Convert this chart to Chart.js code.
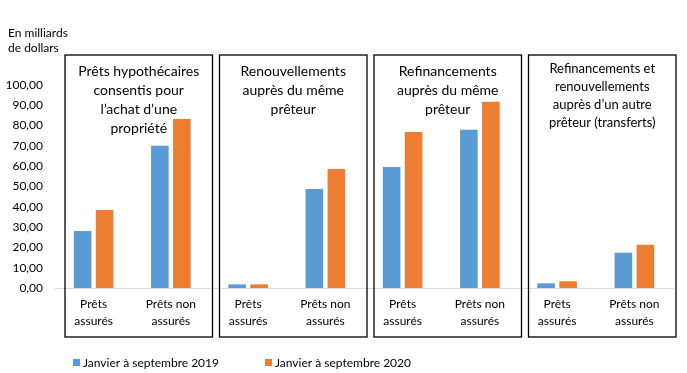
<!DOCTYPE html>
<html>
<head>
<meta charset="utf-8">
<script src="https://cdn.jsdelivr.net/npm/chart.js@4"></script>
<style>
  html, body { margin: 0; padding: 0; background: #fff; }
  #wrap { width: 687px; height: 373px; }
</style>
</head>
<body>
<div id="wrap"><canvas id="chart"></canvas></div>
<script>
// catégories (2 par panneau)
const categories = [
    ['Prêts', 'assurés'], ['Prêts non', 'assurés'],
    ['Prêts', 'assurés'], ['Prêts non', 'assurés'],
    ['Prêts', 'assurés'], ['Prêts non', 'assurés'],
    ['Prêts', 'assurés'], ['Prêts non', 'assurés']
];
const panelTitles = [
    ['Prêts hypothécaires', 'consentis pour', 'l\u2019achat d\u2019une', 'propriété'],
    ['Renouvellements', 'auprès du même', 'prêteur'],
    ['Refinancements', 'auprès du même', 'prêteur'],
    ['Refinancements et', 'renouvellements', 'auprès d\u2019un autre', 'prêteur (transferts)']
];
const seriesLabels = ['Janvier à septembre 2019', 'Janvier à septembre 2020'];
const values2019 = [28.1, 70.1, 1.8, 48.8, 59.6, 78.0, 2.3, 17.4];
const values2020 = [38.4, 83.3, 1.8, 58.6, 76.8, 91.8, 3.3, 21.3];
const yTitle = ['En milliards', 'de dollars'];

const blue = '#5B9BD5';
const orange = '#ED7D31';
const FONT = 'Lato, "Open Sans", sans-serif';

// cadres + titres des panneaux, titre de l'axe et légende
const decorPlugin = {
    id: 'decor',
    afterDraw(chart) {
        const ctx = chart.ctx;
        const x = chart.scales.x;
        ctx.save();
        panelTitles.forEach((lines, k) => {
            const c0 = x.getPixelForValue(2 * k);
            const c1 = x.getPixelForValue(2 * k + 1);
            const half = (c1 - c0) / 2;
            const left = c0 - half + 10;
            const right = c1 + half + 3;
            ctx.strokeStyle = '#000';
            ctx.lineWidth = 1.3;
            ctx.strokeRect(left, 55, right - left, 282);

            const small = lines.length === 4 && k === 3;
            ctx.fillStyle = '#000';
            ctx.font = (small ? '13px ' : '14px ') + FONT;
            ctx.textAlign = 'center';
            ctx.textBaseline = 'middle';
            const step = small ? 17.8 : 19.2;
            const y0 = small ? 69 : 71;
            lines.forEach((t, i) => {
                ctx.fillText(t, (left + right) / 2, y0 + i * step);
            });
        });

        ctx.font = '12px ' + FONT;
        ctx.textAlign = 'left';
        ctx.textBaseline = 'middle';
        ctx.fillStyle = '#000';
        ctx.fillText(yTitle[0], 8, 33);
        ctx.fillText(yTitle[1], 8, 48);

        // légende
        const items = [[seriesLabels[0], blue, 73], [seriesLabels[1], orange, 265]];
        items.forEach(([label, color, lx]) => {
            ctx.fillStyle = color;
            ctx.fillRect(lx, 359, 7, 7);
            ctx.fillStyle = '#000';
            ctx.fillText(label, lx + 10, 363);
        });
        ctx.restore();
    }
};

new Chart(document.getElementById('chart'), {
    type: 'bar',
    data: {
        labels: categories,
        datasets: [
            { label: seriesLabels[0], data: values2019, backgroundColor: blue },
            { label: seriesLabels[1], data: values2020, backgroundColor: orange }
        ]
    },
    options: {
        responsive: true,
        maintainAspectRatio: false,
        animation: false,
        datasets: {
            bar: { categoryPercentage: 0.57, barPercentage: 0.8 }
        },
        layout: { padding: { top: 85, right: 14, left: 0, bottom: 0 } },
        plugins: {
            legend: { display: false },
            tooltip: { enabled: false }
        },
        scales: {
            x: {
                afterFit: s => { s.height = 85; },
                grid: { display: false, drawTicks: false },
                border: { display: true, color: '#d9d9d9', width: 1 },
                ticks: {
                    color: '#000',
                    padding: 8,
                    maxRotation: 0,
                    autoSkip: false,
                    font: { family: FONT, size: 12, lineHeight: 1.4 }
                }
            },
            y: {
                min: 0,
                max: 100,
                afterFit: s => { s.width = 55; },
                grid: { display: false, drawTicks: false },
                border: { display: false },
                ticks: {
                    stepSize: 10,
                    padding: 12,
                    color: '#000',
                    font: { family: FONT, size: 12 },
                    callback: v => v.toFixed(2).replace('.', ',')
                }
            }
        }
    },
    plugins: [decorPlugin]
});
</script>
</body>
</html>
